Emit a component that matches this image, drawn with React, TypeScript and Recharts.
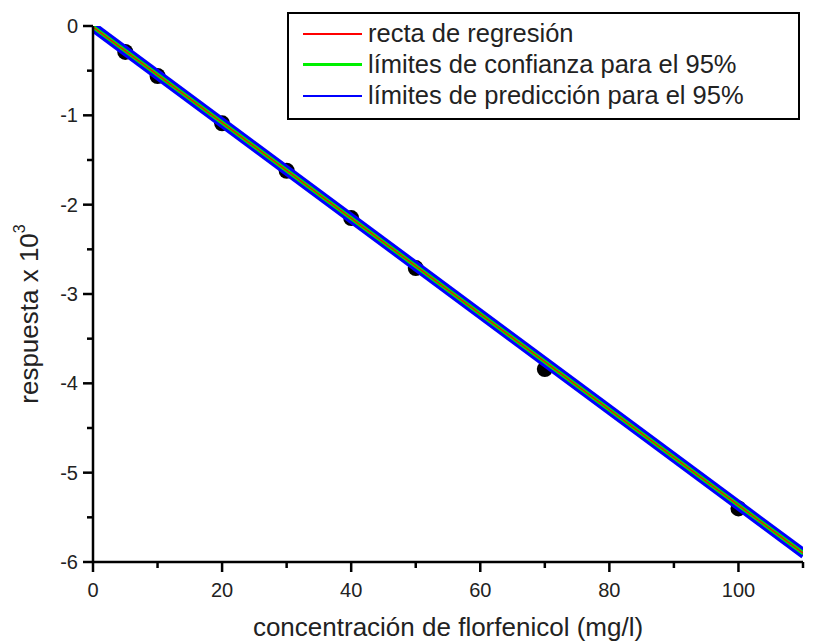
import React from 'react';
import { ComposedChart, Line, Scatter, XAxis, YAxis } from 'recharts';

// measured points (concentration mg/l, response x 10^3)
const concentrations = [5, 10, 20, 30, 40, 50, 70, 100];
const responses = [-0.29, -0.56, -1.09, -1.62, -2.15, -2.71, -3.84, -5.4];

// fitted line and its limits, read at both ends of the x range
const fitX = [0, 110];
const regression = [-0.01, -5.9];
const confUpper = [0.0, -5.89];
const confLower = [-0.02, -5.91];
const predUpper = [0.022, -5.868];
const predLower = [-0.042, -5.932];

const xTicks = [0, 10, 20, 30, 40, 50, 60, 70, 80, 90, 100, 110];
const yTicks = [-6, -5.5, -5, -4.5, -4, -3.5, -3, -2.5, -2, -1.5, -1, -0.5, 0];

const FONT = '"Liberation Sans", Arial, sans-serif';

const toLine = (vals: number[]) => fitX.map((x, i) => ({ x, y: vals[i] }));
const points = concentrations.map((x, i) => ({ x, y: responses[i] }));

const XTick = (props: any) => {
  const { x, y, payload } = props;
  const major = payload.value % 20 === 0;
  return (
    <g>
      <line x1={x} y1={y} x2={x} y2={y + (major ? 10 : 6)} stroke="#000" strokeWidth={2.5} />
      {major && (
        <text x={x} y={y + 35} textAnchor="middle" fontSize={20} fontFamily={FONT} fill="#222">
          {payload.value}
        </text>
      )}
    </g>
  );
};

const YTick = (props: any) => {
  const { x, y, payload } = props;
  const major = Number.isInteger(payload.value);
  return (
    <g>
      <line x1={x - (major ? 10 : 6)} y1={y} x2={x} y2={y} stroke="#000" strokeWidth={2.5} />
      {major && (
        <text x={x - 15} y={y + 7} textAnchor="end" fontSize={20} fontFamily={FONT} fill="#222">
          {payload.value}
        </text>
      )}
    </g>
  );
};

const legendItems = [
  { label: 'recta de regresión', color: '#ff0000', width: 2 },
  { label: 'límites de confianza para el 95%', color: '#00f000', width: 3.5 },
  { label: 'límites de predicción para el 95%', color: '#0000ff', width: 2 },
];

export default function App() {
  return (
    <div style={{ position: 'absolute', left: 0, top: 0, width: 821, height: 642, background: '#fff' }}>
      <ComposedChart
        width={821}
        height={642}
        margin={{ top: 26, right: 18, bottom: 0, left: 0 }}
      >
        <XAxis
          dataKey="x"
          type="number"
          domain={[0, 110]}
          ticks={xTicks}
          height={80}
          tickSize={0}
          tickMargin={0}
          tickLine={false}
          tick={<XTick />}
          axisLine={{ stroke: '#000', strokeWidth: 2.5 }}
          allowDataOverflow
          label={{
            content: (p: any) => {
              const vb = p.viewBox;
              return (
                <text x={vb.x + vb.width / 2} y={vb.y + 74} textAnchor="middle" fontSize={26} fontFamily={FONT} fill="#222">
                  concentración de florfenicol (mg/l)
                </text>
              );
            },
          }}
        />
        <YAxis
          dataKey="y"
          type="number"
          domain={[-6, 0]}
          ticks={yTicks}
          width={93}
          tickSize={0}
          tickMargin={0}
          tickLine={false}
          tick={<YTick />}
          axisLine={{ stroke: '#000', strokeWidth: 2.5 }}
          allowDataOverflow
          label={{
            content: (p: any) => {
              const vb = p.viewBox;
              const cx = 29;
              const cy = vb.y + vb.height / 2 + 20;
              return (
                <text
                  x={cx}
                  y={cy}
                  transform={`rotate(-90, ${cx}, ${cy})`}
                  textAnchor="middle"
                  dominantBaseline="central"
                  fontSize={26}
                  fontFamily={FONT}
                  fill="#222"
                >
                  respuesta x 10
                  <tspan dy={-10} fontSize={16}>3</tspan>
                </text>
              );
            },
          }}
        />
        {/* points kept below the bands */}
        <Scatter
          data={points}
          dataKey="y"
          zIndex={100}
          isAnimationActive={false}
          shape={(p: any) => <circle cx={p.cx} cy={p.cy} r={8} fill="#000" />}
        />
        <Line data={toLine(predUpper)} dataKey="y" stroke="#0000ff" strokeWidth={5.5} dot={false} isAnimationActive={false} />
        <Line data={toLine(predLower)} dataKey="y" stroke="#0000ff" strokeWidth={5.5} dot={false} isAnimationActive={false} />
        <Line data={toLine(confUpper)} dataKey="y" stroke="#00f000" strokeWidth={2.5} dot={false} isAnimationActive={false} />
        <Line data={toLine(confLower)} dataKey="y" stroke="#00f000" strokeWidth={2.5} dot={false} isAnimationActive={false} />
        <Line data={toLine(regression)} dataKey="y" stroke="#ff0000" strokeWidth={1.2} dot={false} isAnimationActive={false} />
      </ComposedChart>
      <div
        style={{
          position: 'absolute',
          left: 287,
          top: 12,
          width: 509,
          height: 100,
          border: '2.5px solid #000',
          background: '#fff',
          fontFamily: FONT,
          fontSize: 25.5,
          color: '#222',
          paddingTop: 4,
          boxSizing: 'content-box',
        }}
      >
        {legendItems.map((it) => (
          <div key={it.label} style={{ display: 'flex', alignItems: 'center', height: 31 }}>
            <div style={{ width: 59, height: it.width, background: it.color, marginLeft: 14, marginRight: 6, flexShrink: 0 }} />
            <span style={{ whiteSpace: 'nowrap' }}>{it.label}</span>
          </div>
        ))}
      </div>
    </div>
  );
}
